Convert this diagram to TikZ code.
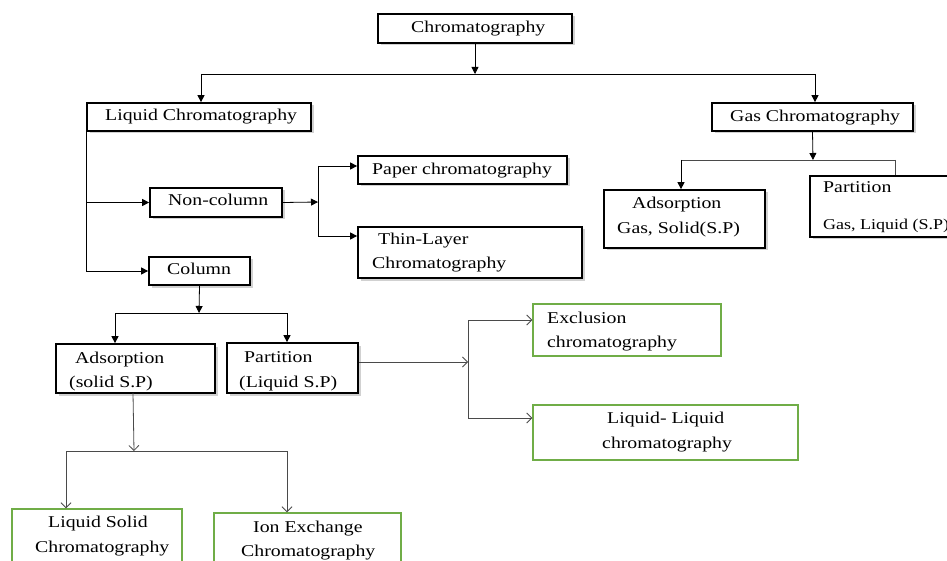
\documentclass[tikz,border=0pt]{standalone}
\usepackage{fontspec}
\setmainfont{Liberation Serif}[FakeStretch=1.2]
\usetikzlibrary{fit,shadows,arrows.meta}
\definecolor{boxgreen}{HTML}{70AD47}
\definecolor{lngray}{HTML}{4A4A4A}
\begin{document}
\begin{tikzpicture}[x=1pt,y=-1pt,
  bbox/.style={draw=black, line width=1.7pt, fill=white, inner sep=0pt,
    drop shadow={shadow xshift=2.5pt, shadow yshift=-2.5pt, fill=black!30, opacity=0.6}},
  gbox/.style={draw=boxgreen, line width=1.4pt, fill=white, inner sep=0pt},
  txt/.style={inner sep=0pt, anchor=base west, font=\fontsize{16.5}{18}\selectfont},
  ln/.style={draw=black, line width=0.8pt},
  ln2/.style={draw=lngray, line width=0.8pt},
  fa/.style={-{Triangle[length=7pt,width=7pt]}},
  oa/.style={-{Straight Barb[length=5pt,width=10pt]}}
]
\useasboundingbox (0,0) rectangle (947,561);
\clip (0,0) rectangle (947,561);

% boxes
\node[bbox, fit={(378,14) (572,43)}] (chrom) {};
\node[bbox, fit={(87,103) (311,131)}] (lc) {};
\node[bbox, fit={(712,103) (913,131)}] (gc) {};
\node[bbox, fit={(150,188) (282,217)}] (nc) {};
\node[bbox, fit={(149,257) (250,285)}] (co) {};
\node[bbox, fit={(358,156) (567,184)}] (pc) {};
\node[bbox, fit={(358,227) (582,278)}] (tl) {};
\node[bbox, fit={(56,344) (215,393)}] (ad) {};
\node[bbox, fit={(227,343) (358,393)}] (pt) {};
\node[bbox, fit={(604,190) (765,248)}] (ga) {};
\node[bbox, fit={(810,176) (970,237)}] (gp) {};
\node[gbox, fit={(533,304) (721,356)}] (ex) {};
\node[gbox, fit={(533,405) (798,460)}] (ll) {};
\node[gbox, fit={(12,509) (182,575)}] (ls) {};
\node[gbox, fit={(214,513) (401,575)}] (ie) {};

% texts
\node[txt] (t1) at (411,33) {Chromatography};
\node[txt] (t2) at (105,121) {Liquid Chromatography};
\node[txt] (t3) at (730,122) {Gas Chromatography};
\node[txt] (t4) at (168,206) {Non-column};
\node[txt] (t5) at (167,275) {Column};
\node[txt] (t6) at (372,175) {Paper chromatography};
\node[txt] (t7) at (378,244) {Thin-Layer};
\node[txt] (t8) at (372,269) {Chromatography};
\node[txt] (t9) at (632,209) {Adsorption};
\node[txt] (t10) at (617,234) {Gas, Solid(S.P)};
\node[txt] (t11) at (823,193) {Partition};
\node[txt, font=\fontsize{15}{17}\selectfont] (t12) at (823,230) {Gas, Liquid (S.P)};
\node[txt] (t13) at (75,363) {Adsorption};
\node[txt] (t14) at (69,387) {(solid S.P)};
\node[txt] (t15) at (244,362) {Partition};
\node[txt] (t16) at (239,387) {(Liquid S.P)};
\node[txt] (t17) at (547,323) {Exclusion};
\node[txt] (t18) at (547,347) {chromatography};
\node[txt] (t19) at (607,423) {Liquid- Liquid};
\node[txt] (t20) at (602,448) {chromatography};
\node[txt] (t21) at (48,527) {Liquid Solid};
\node[txt] (t22) at (35,552) {Chromatography};
\node[txt] (t23) at (253,532) {Ion Exchange};
\node[txt] (t24) at (241,556) {Chromatography};

% junction coordinates
\coordinate (j1) at (475,74);
\coordinate (jl) at (201,74);
\coordinate (jg) at (815,74);
\coordinate (j2) at (318,202);
\coordinate (j3) at (318,166);
\coordinate (j4) at (318,236);
\coordinate (j5) at (199,313);
\coordinate (j6) at (115,313);
\coordinate (j7) at (287,313);
\coordinate (j8) at (468,362);
\coordinate (j9) at (468,320);
\coordinate (j10) at (468,418);
\coordinate (a1) at (133,393);
\coordinate (j11) at (134,451);
\coordinate (j12) at (66,451);
\coordinate (j13) at (287,451);
\coordinate (g1) at (813,160);
\coordinate (g2) at (681,160);
\coordinate (g3) at (895,160);

% connectors
\draw[ln,fa] (chrom.south) -- (j1);
\draw[ln] (jl) -- (jg);
\draw[ln,fa] (jl) -- (jl |- lc.north);
\draw[ln,fa] (jg) -- (jg |- gc.north);

\draw[ln] (lc.south west) -- (lc.south west |- co.west);
\draw[ln,fa] (lc.south west |- nc.west) -- (nc.west);
\draw[ln,fa] (lc.south west |- co.west) -- (co.west);

\draw[ln,fa] (nc.east) -- (j2);
\draw[ln] (j3) -- (j4);
\draw[ln,fa] (j3) -- (j3 -| pc.west);
\draw[ln,fa] (j4) -- (j4 -| tl.west);

\draw[ln,fa] (co.south) -- (j5);
\draw[ln] (j6) -- (j7);
\draw[ln,fa] (j6) -- (j6 |- ad.north);
\draw[ln,fa] (j7) -- (j7 |- pt.north);

\draw[ln2,oa] (pt.east |- j8) -- (j8);
\draw[ln2] (j9) -- (j10);
\draw[ln2,oa] (j9) -- (j9 -| ex.west);
\draw[ln2,oa] (j10) -- (j10 -| ll.west);

\draw[ln2,oa] (a1) -- (j11);
\draw[ln2] (j12) -- (j13);
\draw[ln2,oa] (j12) -- (j12 |- ls.north);
\draw[ln2,oa] (j13) -- (j13 |- ie.north);

\draw[ln,fa] (gc.south) -- (g1);
\draw[ln2] (g2) -- (g3);
\draw[ln,fa] (g2) -- (g2 |- ga.north);
\draw[ln2] (g3) -- (g3 |- gp.north);
\end{tikzpicture}
\end{document}
